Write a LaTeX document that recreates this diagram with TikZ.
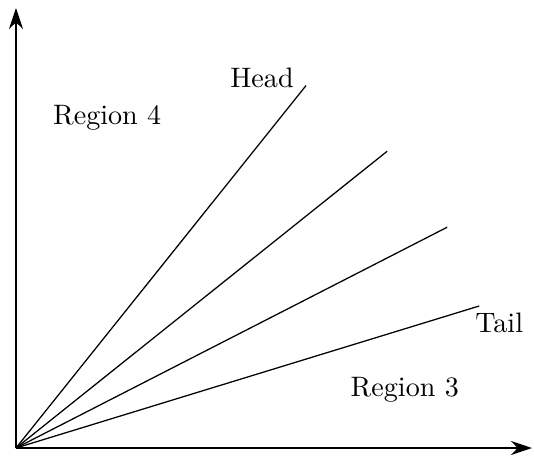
\documentclass[tikz,border=0pt]{standalone}
\usepackage{tikz}
\usetikzlibrary{arrows.meta}

\begin{document}
\begin{tikzpicture}[
  axis/.style={-{Stealth[length=7.5pt,width=5pt,inset=2.4pt]},line width=.6pt},
  ray/.style={line width=.45pt},
  lbl/.style={inner sep=0pt}
]
\useasboundingbox (-0.2,-0.1125) rectangle (6.475,5.6);
\coordinate (o) at (0,0);
\coordinate (xend) at (6.45,0);
\coordinate (yend) at (0,5.5);
\coordinate (r1) at (3.625,4.53);
\coordinate (r2) at (4.64,3.71);
\coordinate (r3) at (5.39,2.76);
\coordinate (r4) at (5.79,1.775);
\draw[axis] (o) -- (xend);
\draw[axis] (o) -- (yend);
\foreach \r in {r1,r2,r3,r4}
  \draw[ray] (o) -- (\r);
\node[lbl] (head) at (3.075,4.625) {Head};
\node[lbl] (tail) at (6.04,1.57) {Tail};
\node[lbl] (reg4) at (1.14,4.125) {Region 4};
\node[lbl] (reg3) at (4.86,0.725) {Region 3};
\end{tikzpicture}
\end{document}
